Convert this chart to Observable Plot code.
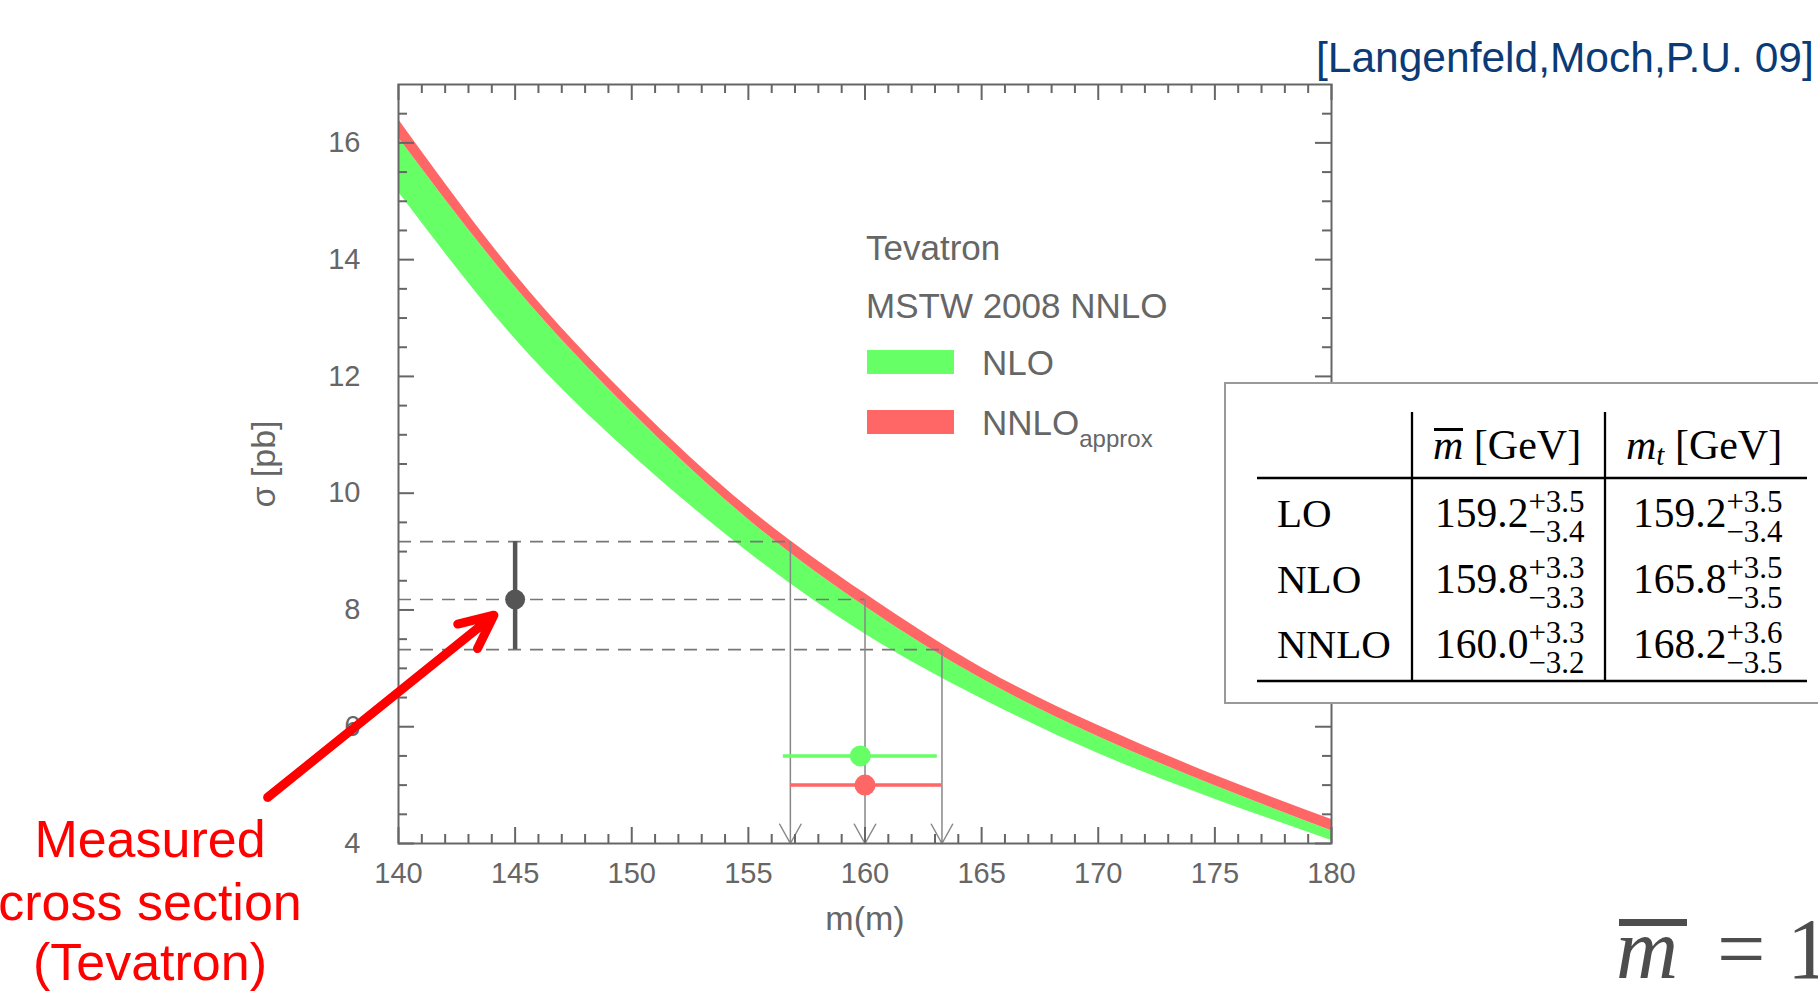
<!DOCTYPE html>
<html><head><meta charset="utf-8">
<script src="https://cdn.jsdelivr.net/npm/d3@7"></script>
<script src="https://cdn.jsdelivr.net/npm/@observablehq/plot@0.6"></script>
<style>
html,body{margin:0;padding:0;background:#fff;overflow:hidden;}
#wrap{position:relative;width:1818px;height:1000px;}
#wrap > svg{position:absolute;left:0;top:0;}
</style></head><body><div id="wrap"></div>
<script>
// ---------- data ----------
const massGrid  = [140, 145, 150, 155, 160, 165, 170, 175, 180];
const nnloUpper = [16.40, 13.75, 11.58, 9.75, 8.28, 7.01, 6.02, 5.17, 4.41];
const nnloLower = [16.09, 13.53, 11.39, 9.55, 8.06, 6.82, 5.83, 4.99, 4.22];
const nloUpper  = [16.09, 13.53, 11.39, 9.55, 8.06, 6.82, 5.83, 4.99, 4.22];
const nloLower  = [15.16, 12.64, 10.66, 8.99, 7.59, 6.48, 5.54, 4.76, 4.05];

const measMass = 145;
const measSigma = 8.18;
const measSigmaUp = 9.17;
const measSigmaDown = 7.32;

const orders      = ["LO", "NLO", "NNLO"];
const mbarCentral = [159.2, 159.8, 160.0];
const mbarPlus    = [3.5, 3.3, 3.3];
const mbarMinus   = [3.4, 3.3, 3.2];
const mtCentral   = [159.2, 165.8, 168.2];
const mtPlus      = [3.5, 3.5, 3.6];
const mtMinus     = [3.4, 3.5, 3.5];

const markerOrders = ["NLO", "NNLO"];
const markerY      = [5.5, 5.0];
const markerColors = ["#66ff66", "#ff6666"];

const xTicks = [140, 145, 150, 155, 160, 165, 170, 175, 180];
const yTicks = [4, 6, 8, 10, 12, 14, 16];

const legendTitles = ["Tevatron", "MSTW 2008 NNLO"];
const legendItems  = ["NLO", "NNLO"];
const legendSubs   = ["", "approx"];
const legendColors = ["#66ff66", "#ff6666"];

const annotArrow = [{x1: 134.39, y1: 4.79, x2: 144.09, y2: 7.91}];
const annotLines = ["Measured", "cross section", "(Tevatron)"];
const citation = "[Langenfeld,Moch,P.U. 09]";

// ---------- derived tables ----------
const bandRows = massGrid.map((m, i) => ({m, nnloHi: nnloUpper[i], nnloLo: nnloLower[i], nloHi: nloUpper[i], nloLo: nloLower[i]}));
const nn = orders.indexOf("NNLO");
const extraction = [
  {sigma: measSigmaUp,   mass: mbarCentral[nn] - mbarMinus[nn]},
  {sigma: measSigma,     mass: mbarCentral[nn]},
  {sigma: measSigmaDown, mass: mbarCentral[nn] + mbarPlus[nn]}
].map(d => ({...d, mass: Math.round(d.mass * 10) / 10}));
const markers = markerOrders.map((o, k) => {
  const i = orders.indexOf(o);
  return {m: mbarCentral[i], lo: mbarCentral[i] - mbarMinus[i], hi: mbarCentral[i] + mbarPlus[i], y: markerY[k], color: markerColors[k]};
});
const measured = [{m: measMass, s: measSigma, lo: measSigmaDown, hi: measSigmaUp}];
const xMinor = d3.range(140, 181, 1).filter(v => !xTicks.includes(v));
const yMinor = d3.range(4.5, 17, 0.5).filter(v => !yTicks.includes(v));

// ---------- layout ----------
const W = 1818, H = 1000, mL = 398, mR = 487, mT = 84, mB = 157;
const pW = W - mL - mR, pH = H - mT - mB;
const tickCol = "#666";
const sans = "'Liberation Sans', Arial, sans-serif";
const serif = "'Liberation Serif', 'Times New Roman', serif";

const plot = Plot.plot({
  width: W, height: H,
  marginLeft: mL, marginRight: mR, marginTop: mT, marginBottom: mB,
  x: {domain: [140, 180], label: null},
  y: {domain: [4, 17], label: null},
  color: {type: "identity"},
  style: {fontFamily: sans, color: "#666", background: "#fff"},
  marks: [
    Plot.areaY(bandRows, {x: "m", y1: "nloLo", y2: "nloHi", fill: "#66ff66", curve: "natural"}),
    Plot.areaY(bandRows, {x: "m", y1: "nnloLo", y2: "nnloHi", fill: "#ff6666", curve: "natural"}),
    Plot.ruleY(extraction, {y: "sigma", x1: () => 140, x2: "mass", stroke: "#777", strokeWidth: 1.6, strokeDasharray: "13,9"}),
    Plot.arrow(extraction, {x1: "mass", x2: "mass", y1: "sigma", y2: () => 4, stroke: "#888", strokeWidth: 1.5, headLength: 22, headAngle: 58}),
    Plot.ruleY(markers, {y: "y", x1: "lo", x2: "hi", stroke: "color", strokeWidth: 3.5}),
    Plot.dot(markers, {x: "m", y: "y", r: 10.5, fill: "color"}),
    Plot.ruleX(measured, {x: "m", y1: "lo", y2: "hi", stroke: "#555", strokeWidth: 4.5}),
    Plot.dot(measured, {x: "m", y: "s", r: 10, fill: "#555"}),
    // frame ticks (inward, all four sides)
    Plot.tickX(xMinor, {x: d => d, stroke: tickCol, strokeWidth: 2, insetTop: pH - 9}),
    Plot.tickX(xTicks, {x: d => d, stroke: tickCol, strokeWidth: 2, insetTop: pH - 16}),
    Plot.tickX(xMinor, {x: d => d, stroke: tickCol, strokeWidth: 2, insetBottom: pH - 9}),
    Plot.tickX(xTicks, {x: d => d, stroke: tickCol, strokeWidth: 2, insetBottom: pH - 16}),
    Plot.tickY(yMinor, {y: d => d, stroke: tickCol, strokeWidth: 2, insetRight: pW - 9}),
    Plot.tickY(yTicks, {y: d => d, stroke: tickCol, strokeWidth: 2, insetRight: pW - 16}),
    Plot.tickY(yMinor, {y: d => d, stroke: tickCol, strokeWidth: 2, insetLeft: pW - 9}),
    Plot.tickY(yTicks, {y: d => d, stroke: tickCol, strokeWidth: 2, insetLeft: pW - 16}),
    Plot.frame({stroke: tickCol, strokeWidth: 2}),
    Plot.axisX({ticks: xTicks, tickSize: 0, tickPadding: 19, fontSize: 29, label: null}),
    Plot.axisY({ticks: yTicks, tickSize: 0, tickPadding: 38, fontSize: 29, label: null}),
    Plot.text([0], {frameAnchor: "left", text: () => "σ [pb]", rotate: -90, dx: -134, fontSize: 34, fill: "#666", textAnchor: "middle", lineAnchor: "middle"}),
    Plot.text([0], {frameAnchor: "bottom", text: () => "m(m)", dy: 76, fontSize: 34, fill: "#666", textAnchor: "middle", lineAnchor: "middle"}),
    Plot.arrow(annotArrow, {x1: "x1", y1: "y1", x2: "x2", y2: "y2", stroke: "#ff0000", strokeWidth: 9, headLength: 6.2, headAngle: 50})
  ]
});

const wrap = document.getElementById("wrap");
wrap.appendChild(plot);

// ---------- overlay: legend, table, annotations ----------
const ov = d3.create("svg").attr("width", W).attr("height", H).attr("viewBox", `0 0 ${W} ${H}`);
wrap.appendChild(ov.node());

// legend
const lg = ov.append("g").attr("font-family", sans).attr("fill", "#666").attr("font-size", 35);
const titleY = [260, 318];
legendTitles.forEach((t, i) => lg.append("text").attr("x", 866).attr("y", titleY[i]).text(t));
const itemY = [375, 435];
legendItems.forEach((t, i) => {
  lg.append("rect").attr("x", 867).attr("y", itemY[i] - 25).attr("width", 87).attr("height", 24).attr("fill", legendColors[i]);
  const tx = lg.append("text").attr("x", 982).attr("y", itemY[i]).text(t);
  if (legendSubs[i]) tx.append("tspan").attr("font-size", 24).attr("dy", 12).text(legendSubs[i]);
});

// citation
ov.append("text").attr("x", 1316).attr("y", 72).attr("font-family", sans).attr("font-size", 42.5)
  .attr("fill", "#0b3b76").text(citation);

// red annotation text
const an = ov.append("g").attr("font-family", sans).attr("font-size", 52).attr("fill", "#ff0000").attr("text-anchor", "middle");
const annY = [857, 920, 980];
annotLines.forEach((t, i) => an.append("text").attr("x", 150).attr("y", annY[i]).text(t));

// table
const tb = ov.append("g").attr("font-family", serif).attr("fill", "#000");
tb.append("rect").attr("x", 1225).attr("y", 383).attr("width", 700).attr("height", 320)
  .attr("fill", "#fff").attr("stroke", "#999").attr("stroke-width", 2);
[[1257, 478, 1807, 478], [1257, 681, 1807, 681], [1412, 412, 1412, 681], [1605, 412, 1605, 681]]
  .forEach(([a, b, c, d]) => tb.append("line").attr("x1", a).attr("y1", b).attr("x2", c).attr("y2", d)
    .attr("stroke", "#000").attr("stroke-width", 2.3));
// headers
const h1 = tb.append("text").attr("x", 1433).attr("y", 459).attr("font-size", 42);
h1.append("tspan").attr("font-style", "italic").text("m");
h1.append("tspan").text(" [GeV]");
tb.append("rect").attr("x", 1434).attr("y", 428).attr("width", 29).attr("height", 3).attr("fill", "#000");
const h2 = tb.append("text").attr("x", 1626).attr("y", 459).attr("font-size", 42);
h2.append("tspan").attr("font-style", "italic").text("m");
h2.append("tspan").attr("font-style", "italic").attr("font-size", 29).attr("dy", 6).text("t");
h2.append("tspan").attr("dy", -6).text(" [GeV]");
// rows
const rowY = [527, 593, 658];
const colX = [1435, 1633];
orders.forEach((o, i) => {
  tb.append("text").attr("x", 1277).attr("y", rowY[i]).attr("font-size", 41).text(o);
  const cols = [[mbarCentral[i], mbarPlus[i], mbarMinus[i]], [mtCentral[i], mtPlus[i], mtMinus[i]]];
  cols.forEach(([c, p, m], j) => {
    const t = tb.append("text").attr("x", colX[j]).attr("y", rowY[i]).attr("font-size", 41.5).text(c.toFixed(1));
    const w = t.node().getComputedTextLength();
    tb.append("text").attr("x", colX[j] + w).attr("y", rowY[i] - 15).attr("font-size", 31).text("+" + p.toFixed(1));
    tb.append("text").attr("x", colX[j] + w).attr("y", rowY[i] + 15).attr("font-size", 31).text("\u2212" + m.toFixed(1));
  });
});

// bottom-right formula fragment
const fm = ov.append("g").attr("font-family", serif).attr("fill", "#4d4d4d").attr("font-size", 86);
fm.append("text").attr("x", 1616).attr("y", 978).attr("font-style", "italic").text("m");
fm.append("rect").attr("x", 1619).attr("y", 919).attr("width", 68).attr("height", 7);
fm.append("text").attr("x", 1717).attr("y", 978).text("= 1");
</script></body></html>
